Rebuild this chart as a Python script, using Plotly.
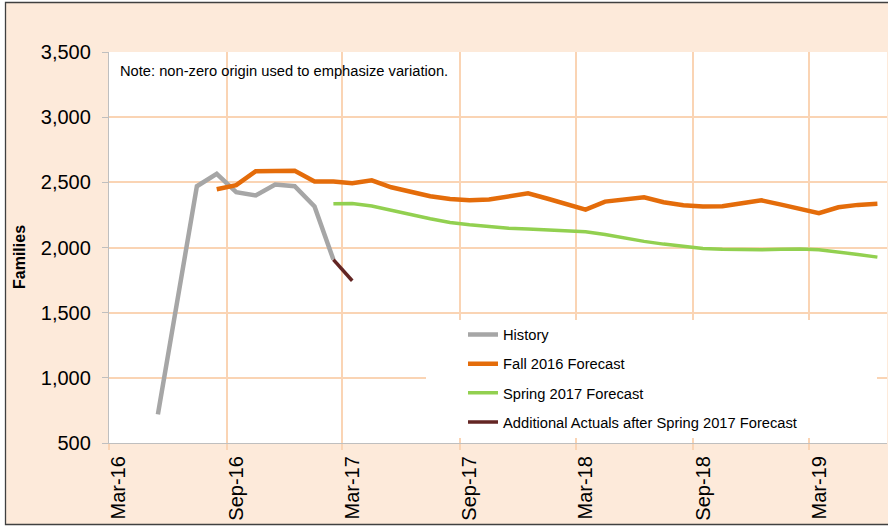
import plotly.graph_objects as go

# ---------------- data ----------------
history_months = ["2016-05-01", "2016-06-01", "2016-07-01", "2016-08-01", "2016-09-01",
                  "2016-10-01", "2016-11-01", "2016-12-01", "2017-01-01", "2017-02-01"]
history_values = [720, 1590, 2470, 2565, 2425, 2400, 2483, 2470, 2315, 1907]

fall2016_months = ["2016-08-01", "2016-09-01", "2016-10-01", "2016-11-01", "2016-12-01",
                   "2017-01-01", "2017-02-01", "2017-03-01", "2017-04-01", "2017-05-01",
                   "2017-06-01", "2017-07-01", "2017-08-01", "2017-09-01", "2017-10-01",
                   "2017-11-01", "2017-12-01", "2018-01-01", "2018-02-01", "2018-03-01",
                   "2018-04-01", "2018-05-01", "2018-06-01", "2018-07-01", "2018-08-01",
                   "2018-09-01", "2018-10-01", "2018-11-01", "2018-12-01", "2019-01-01",
                   "2019-02-01", "2019-03-01", "2019-04-01", "2019-05-01", "2019-06-01"]
fall2016_values = [2447, 2478, 2585, 2588, 2588, 2506, 2506, 2493, 2515, 2462,
                   2424, 2393, 2373, 2362, 2368, 2392, 2416, 2374, 2333, 2291,
                   2352, 2370, 2385, 2347, 2324, 2314, 2316, 2340, 2362, 2329,
                   2296, 2263, 2309, 2327, 2335]

spring2017_months = ["2017-02-01", "2017-03-01", "2017-04-01", "2017-05-01", "2017-06-01",
                     "2017-07-01", "2017-08-01", "2017-09-01", "2017-10-01", "2017-11-01",
                     "2017-12-01", "2018-01-01", "2018-02-01", "2018-03-01", "2018-04-01",
                     "2018-05-01", "2018-06-01", "2018-07-01", "2018-08-01", "2018-09-01",
                     "2018-10-01", "2018-11-01", "2018-12-01", "2019-01-01", "2019-02-01",
                     "2019-03-01", "2019-04-01", "2019-05-01", "2019-06-01"]
spring2017_values = [2335, 2337, 2319, 2289, 2253, 2220, 2192, 2174, 2159, 2148,
                     2141, 2136, 2131, 2121, 2100, 2072, 2047, 2026, 2006, 1993,
                     1986, 1983, 1983, 1986, 1988, 1983, 1968, 1947, 1926]

additional_months = ["2017-02-01", "2017-03-01"]
additional_values = [1907, 1745]

x_tick_vals = ["2016-03-01", "2016-09-01", "2017-03-01", "2017-09-01",
               "2018-03-01", "2018-09-01", "2019-03-01"]
x_tick_text = ["Mar-16", "Sep-16", "Mar-17", "Sep-17", "Mar-18", "Sep-18", "Mar-19"]
x_range = ["2016-03-01", "2019-07-01"]
y_range = [500, 3500]

# ---------------- styling ----------------
W, H = 888, 526
ML, MR, MT, MB = 109, 1, 52, 83
PW, PH = W - ML - MR, H - MT - MB
FONT = "Liberation Sans, Arial, sans-serif"
PEACH = "#FDEADA"
GRID = "#FAD4B4"
AXIS = "#BFBFBF"


def px_x(p):
    return (p - ML) / PW


def px_y(p):
    return (H - MB - p) / PH


fig = go.Figure()

series = [
    ("History", history_months, history_values, "#A6A6A6", 4.5),
    ("Fall 2016 Forecast", fall2016_months, fall2016_values, "#E46C0A", 4.5),
    ("Spring 2017 Forecast", spring2017_months, spring2017_values, "#92D050", 3.5),
    ("Additional Actuals after Spring 2017 Forecast", additional_months, additional_values, "#632523", 3.5),
]
for name, xs, ys, color, width in series:
    fig.add_trace(go.Scatter(
        x=xs, y=ys, name=name, mode="lines",
        xperiod="M1", xperiodalignment="middle",
        line=dict(color=color, width=width),
        legendgroup=name,
    ))

shapes = [
    # chart area background with border
    dict(type="rect", xref="paper", yref="paper", layer="below",
         x0=px_x(5.5), x1=px_x(W + 10), y0=px_y(524.5), y1=px_y(2.5),
         fillcolor=PEACH, line=dict(color="#404040", width=1.3)),
    # white plot area
    dict(type="rect", xref="paper", yref="paper", layer="below",
         x0=0, x1=1, y0=0, y1=1, fillcolor="white", line=dict(width=0)),
    # legend box
    dict(type="rect", xref="paper", yref="paper", layer="above",
         x0=px_x(426), x1=px_x(877), y0=px_y(438), y1=px_y(320),
         fillcolor="white", line=dict(width=0)),
]

annotations = [
    dict(text="Note: non-zero origin used to emphasize variation.",
         xref="paper", yref="paper", x=px_x(118), y=px_y(71),
         xanchor="left", yanchor="middle", showarrow=False,
         font=dict(family=FONT, size=14.7, color="#000000")),
    dict(text="<b>Families</b>", xref="paper", yref="paper",
         x=px_x(19), y=px_y(257), textangle=-90,
         xanchor="center", yanchor="middle", showarrow=False,
         font=dict(family=FONT, size=16, color="#000000")),
]

fig.update_layout(
    width=W, height=H,
    margin=dict(l=ML, r=MR, t=MT, b=MB, pad=0),
    paper_bgcolor="white",
    plot_bgcolor="rgba(0,0,0,0)",
    font=dict(family=FONT, color="#000000"),
    shapes=shapes,
    annotations=annotations,
    showlegend=True,
    legend=dict(
        x=px_x(463), y=px_y(318.5), xanchor="left", yanchor="top",
        bgcolor="rgba(0,0,0,0)", borderwidth=0,
        font=dict(family=FONT, size=14.7, color="#000000"),
        traceorder="grouped", tracegroupgap=7,
    ),
    xaxis=dict(
        type="date", range=x_range,
        tickmode="array", tickvals=x_tick_vals, ticktext=x_tick_text,
        tickangle=-90, ticklabelshift=10, ticklabelstandoff=-2,
        tickfont=dict(family=FONT, size=20, color="#000000"),
        ticks="outside", ticklen=6, tickcolor=GRID, tickwidth=1.5,
        showgrid=True, gridcolor=GRID, gridwidth=1.5,
        showline=True, linecolor=AXIS, linewidth=1.3,
        zeroline=False, fixedrange=True,
    ),
    yaxis=dict(
        range=y_range, tickmode="linear", tick0=500, dtick=500,
        tickformat=",",
        tickfont=dict(family=FONT, size=20, color="#000000"),
        ticks="outside", ticklen=6, tickcolor=AXIS, tickwidth=1,
        ticklabelstandoff=7,
        showgrid=True, gridcolor=GRID, gridwidth=1.5,
        showline=True, linecolor=AXIS, linewidth=1.3,
        zeroline=False, fixedrange=True,
    ),
)

fig.write_html("out.html", config={"displayModeBar": False},
               post_script="document.body.style.margin='0';")
